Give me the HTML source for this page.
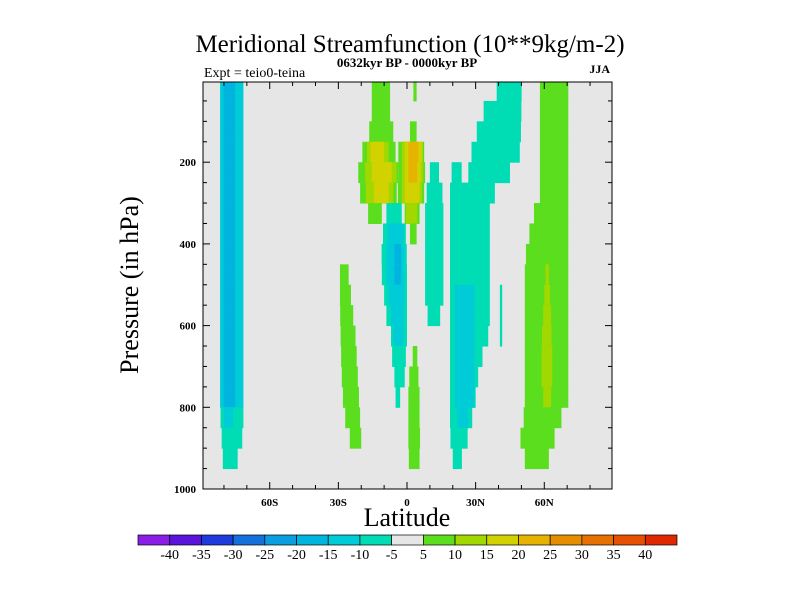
<!DOCTYPE html>
<html><head><meta charset="utf-8"><style>
body{margin:0;background:#fff;}
svg{display:block;font-family:"Liberation Serif",serif;}
</style></head><body>
<svg id="chart" width="800" height="600" viewBox="0 0 800 600" xmlns="http://www.w3.org/2000/svg">
<defs><clipPath id="plotclip"><rect x="203" y="82" width="409" height="407"/></clipPath></defs>
<text x="410" y="52" text-anchor="middle" font-size="25">Meridional Streamfunction (10**9kg/m-2)</text>
<text x="407" y="67" text-anchor="middle" font-size="13" font-weight="bold">0632kyr BP - 0000kyr BP</text>
<text x="204" y="77" font-size="14">Expt = teio0-teina</text>
<text x="610" y="73" text-anchor="end" font-size="12" font-weight="bold">JJA</text>
<rect x="203" y="82" width="409" height="407" fill="#e6e6e6"/>
<g id="cells" clip-path="url(#plotclip)"></g>
<rect x="203" y="82" width="409" height="407" fill="none" stroke="#000" stroke-width="1"/>
<g id="axes"></g>
<text x="407" y="526" text-anchor="middle" font-size="26">Latitude</text>
<text transform="translate(138,285) rotate(-90)" text-anchor="middle" font-size="26">Pressure (in hPa)</text>
<g id="colorbar"></g>
</svg>
<script>
const pressureLevels=[25,75,125,175,225,275,325,375,425,475,525,575,625,675,725,775,825,875,925,975];
// segments per level: [latStart, latEnd, value]
const segments=[
/*25*/[[-81.7,-71.5,-12],[-80.2,-75.1,-17],[-15.4,-7.4,7],[2.8,4.2,7],[39.2,50.1,-7],[58.1,70.5,7]],
/*75*/[[-81.7,-71.5,-12],[-80.2,-75.1,-17],[-15.4,-7.4,7],[33.5,50,-7],[58.1,70.5,7]],
/*125*/[[-81.7,-71.5,-12],[-80.2,-75.1,-17],[-16.5,-6,7],[1.3,4.2,7],[30.5,49.8,-7],[58.1,70.5,7]],
/*175*/[[-81.7,-71.5,-12],[-80.2,-75.1,-17],[-19.5,-5,7],[-17.5,-8,12],[-16,-10,17],[-3.8,7.5,7],[-2.3,7,12],[-0.9,6.5,17],[0.6,5,22],[28.2,49.3,-7],[58.1,70.5,7]],
/*225*/[[-81.7,-71.5,-12],[-80.2,-75.1,-17],[-21.3,-3.8,7],[-18.3,-4.5,12],[-15.4,-6.7,17],[-3.8,7.9,7],[-2.3,7.1,12],[-0.9,6,17],[0.6,4.5,22],[10,14,-7],[19.5,23.9,-7],[26.8,45,-7],[58.1,70.5,7]],
/*275*/[[-81.7,-71.5,-12],[-80.2,-75.1,-17],[-20.5,-4.5,7],[-18,-6,12],[-14.5,-8,17],[-4,7.5,7],[-2.3,6.5,12],[-1,5.5,17],[8.6,15.5,-7],[18.8,38.4,-7],[58.1,70.5,7]],
/*325*/[[-81.7,-71.5,-12],[-80.2,-75.1,-17],[-17,-11,7],[-9,-2.3,-7],[-1,5.5,7],[-0.5,4.5,12],[7.9,15.9,-7],[18.8,36.2,-7],[55.5,70.5,7]],
/*375*/[[-81.7,-71.5,-12],[-80.2,-75.1,-17],[-10.5,-0.5,-7],[-8.5,-1.5,-12],[1.3,4.2,7],[7.9,15.9,-7],[18.8,36.2,-7],[53.5,70.5,7]],
/*425*/[[-81.7,-71.5,-12],[-80.2,-75.1,-17],[-11.1,-0.1,-7],[-9,-1,-12],[-5.5,-2.5,-17],[7.9,15.9,-7],[18.8,36.2,-7],[52,70.5,7]],
/*475*/[[-81.7,-71.5,-12],[-80.2,-75.1,-17],[-29.3,-25.5,7],[-11,0,-7],[-9,-1,-12],[-5.5,-2.5,-17],[7.9,15.9,-7],[18.8,36.2,-7],[51.5,70.5,7],[60.5,62,12]],
/*525*/[[-81.7,-71.5,-12],[-80.2,-75.1,-17],[-29.3,-24.5,7],[-10,0,-7],[-8,-1,-12],[7.9,15.9,-7],[18.8,36.2,-7],[21,29.5,-12],[40.6,41.6,-7],[51.5,70.5,7],[60,62.5,12]],
/*575*/[[-81.7,-71.5,-12],[-80.2,-75.1,-17],[-29.2,-23.5,7],[-9,0,-7],[-7,-1.5,-12],[9,14.5,-7],[18.8,36.2,-7],[21,29.5,-12],[40.6,41.6,-7],[51.5,70.5,7],[59.5,63,12]],
/*625*/[[-81.7,-71.5,-12],[-80.2,-75.1,-17],[-29,-22.5,7],[-7,0,-7],[-6,-1.5,-12],[18.8,35.5,-7],[21,29.5,-12],[40.6,41.6,-7],[51.5,70.5,7],[59,63.2,12]],
/*675*/[[-81.7,-71.5,-12],[-80.2,-75.1,-17],[-28.8,-22,7],[-6.5,-0.5,-7],[2.5,4.5,7],[18.8,33,-7],[21,29.5,-12],[51.5,70.5,7],[58.8,63.5,12]],
/*725*/[[-81.7,-71.5,-12],[-80.2,-75.1,-17],[-28.5,-21.5,7],[-5.5,-1,-7],[1,5,7],[18.8,31.1,-7],[21,29.5,-12],[51.5,70.5,7],[58.8,63.5,12]],
/*775*/[[-81.7,-71.5,-12],[-80.2,-75.1,-17],[-28,-21,7],[-5,-3,-7],[0.6,5.5,7],[18.8,30,-7],[21,29.5,-12],[51.5,70.5,7],[59.5,63,12]],
/*825*/[[-81.5,-71.5,-7],[-80,-76,-12],[-27,-20.5,7],[0.6,5.5,7],[18.8,28.5,-7],[22,27,-12],[51,67.5,7]],
/*875*/[[-81,-72,-7],[-25,-20,7],[0.6,5.7,7],[19,26.5,-7],[49.6,64.5,7]],
/*925*/[[-80.5,-74,-7],[0.8,5.5,7],[20,24,-7],[51.5,62,7]],
/*975*/[]
];
const xTickVals=[-60,-30,0,30,60];
const xTickLabels=["60S","30S","0","30N","60N"];
const yTickVals=[200,400,600,800,1000];
const yTickLabels=["200","400","600","800","1000"];
const levelBounds=[-40,-35,-30,-25,-20,-15,-10,-5,5,10,15,20,25,30,35,40];
const levelColors=["#8a1ee6","#5a14dc","#1e3cdc","#1470dc","#0a9ee0","#00b4e0","#00ccd8","#00dcb4","#e6e6e6","#5ade1e","#a0d800","#d2d200","#e6b400","#e68c00","#e67000","#e65000","#e02800"];

const NS="http://www.w3.org/2000/svg";
const xs=lat=>407+lat*2.288;
const ys=p=>489-(1000-p)*0.4085;
function colorFor(v){let i=0;while(i<levelBounds.length&&v>levelBounds[i])i++;return levelColors[i];}
const cells=document.getElementById('cells');
pressureLevels.forEach((p,i)=>{
  segments[i].forEach(s=>{
    const r=document.createElementNS(NS,'rect');
    r.setAttribute('x',xs(s[0]));r.setAttribute('width',xs(s[1])-xs(s[0]));
    r.setAttribute('y',ys(p-25));r.setAttribute('height',ys(p+25)-ys(p-25)+0.5);
    r.setAttribute('fill',colorFor(s[2]));
    
    
    cells.appendChild(r);
  });
});
const axes=document.getElementById('axes');
function line(x1,y1,x2,y2){const l=document.createElementNS(NS,'line');l.setAttribute('x1',x1);l.setAttribute('y1',y1);l.setAttribute('x2',x2);l.setAttribute('y2',y2);l.setAttribute('stroke','#000');l.setAttribute('stroke-width','1');


axes.appendChild(l);}
for(let lat=-80;lat<=80;lat+=10){const x=xs(lat),len=(lat%30===0)?7:4;line(x,489,x,489-len);line(x,82,x,82+len);}
for(let p=50;p<1000;p+=50){const y=ys(p),len=(p%200===0)?7:4;line(203,y,203+len,y);line(612,y,612-len,y);}
xTickVals.forEach((v,i)=>{const t=document.createElementNS(NS,'text');t.setAttribute('x',xs(v));t.setAttribute('y',506);t.setAttribute('text-anchor','middle');t.setAttribute('font-size','11');t.setAttribute('font-weight','bold');t.textContent=xTickLabels[i];


axes.appendChild(t);});
yTickVals.forEach((v,i)=>{const t=document.createElementNS(NS,'text');t.setAttribute('x',196);t.setAttribute('y',ys(v)+4);t.setAttribute('text-anchor','end');t.setAttribute('font-size','11');t.setAttribute('font-weight','bold');t.textContent=yTickLabels[i];


axes.appendChild(t);});
const cb=document.getElementById('colorbar');
const bw=(677-138)/levelColors.length;
levelColors.forEach((c,i)=>{const r=document.createElementNS(NS,'rect');r.setAttribute('x',138+i*bw);r.setAttribute('y',535);r.setAttribute('width',bw);r.setAttribute('height',10);r.setAttribute('fill',c);r.setAttribute('stroke','#000');r.setAttribute('stroke-width','0.7');


cb.appendChild(r);});
levelBounds.forEach((v,i)=>{const t=document.createElementNS(NS,'text');t.setAttribute('x',138+(i+1)*bw);t.setAttribute('y',559);t.setAttribute('text-anchor','middle');t.setAttribute('font-size','14');t.textContent=String(v);


cb.appendChild(t);});
</script>
</body></html>
